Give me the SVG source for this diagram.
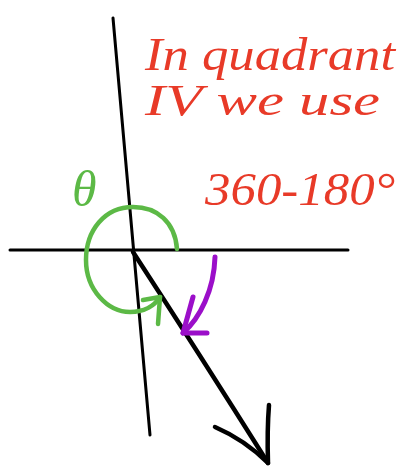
<svg xmlns="http://www.w3.org/2000/svg" width="413" height="467" viewBox="0 0 413 467">
<style>
.ax{stroke:#000;stroke-width:3;fill:none;stroke-linecap:round}
.vec{stroke:#000;stroke-width:4.5;fill:none;stroke-linecap:round;stroke-linejoin:round}
.grn{stroke:#5cb946;stroke-width:4.5;fill:none;stroke-linecap:round;stroke-linejoin:round}
.pur{stroke:#9b0fc9;stroke-width:5;fill:none;stroke-linecap:round;stroke-linejoin:round}
.red{fill:#e83a28;font-family:"Liberation Serif",serif;font-style:italic}
</style>
<rect width="413" height="467" fill="#fff"/>
<g id="axes">
<path class="ax" d="M113 18 L150 435"/>
<path class="ax" d="M10 250 L348 250"/>
</g>
<g id="vector">
<path class="vec" d="M133 252 Q200 355 268 463"/>
<path class="vec" d="M215 427 Q245 440 268 463 M269 405 Q267 430 268 463"/>
</g>
<g id="angle-theta">
<path class="grn" d="M177 249 C175 222 157 207 133 207 C105 207 86 230 86 260 C86 290 108 312 130 312 C145 312 155 305 160 297"/>
<path class="grn" d="M143 300 L160 297 L158 324"/>
<text x="72" y="206" font-family="Liberation Serif,serif" font-style="italic" font-size="50" fill="#5cb946">θ</text>
</g>
<g id="angle-ref">
<path class="pur" d="M215 257 C214 290 200 318 183 333"/>
<path class="pur" d="M193 297 L183 333 L207 333"/>
</g>
<g id="notes">
<text class="red" x="145" y="70" font-size="46" textLength="250" lengthAdjust="spacingAndGlyphs">In quadrant</text>
<text class="red" x="145" y="115" font-size="44" textLength="235" lengthAdjust="spacingAndGlyphs">IV we use</text>
<text class="red" x="205" y="205" font-size="46" textLength="190" lengthAdjust="spacingAndGlyphs">360-180°</text>
</g>
</svg>
